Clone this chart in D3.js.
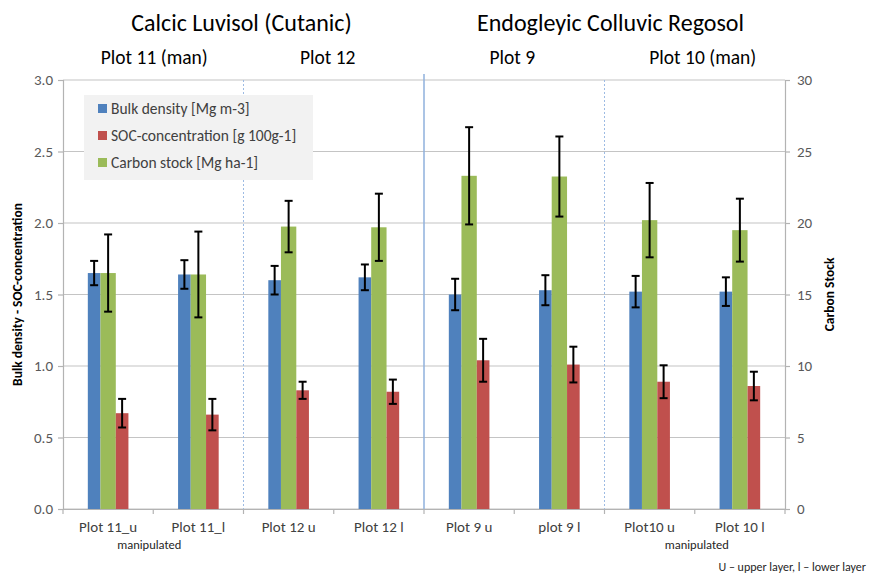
<!DOCTYPE html>
<html>
<head>
<meta charset="utf-8">
<script src="https://cdn.jsdelivr.net/npm/d3@7"></script>
<style>
  html, body { margin: 0; padding: 0; background: #fff; }
  svg { display: block; font-family: Carlito, Calibri, Lato, "Open Sans", sans-serif; }
</style>
</head>
<body>
<svg id="chart" width="869" height="574"></svg>
<script>
// ---------------- data ----------------
const categories = ["Plot 11_u", "Plot 11_l", "Plot 12 u", "Plot 12 l", "Plot 9 u", "plot 9 l", "Plot10 u", "Plot 10 l"];
const bulkDensity    = [1.65, 1.64, 1.60, 1.62, 1.50, 1.53, 1.52, 1.52];
const bulkDensityErr = [0.085, 0.10, 0.10, 0.09, 0.11, 0.105, 0.11, 0.10];
const socConc        = [0.67, 0.66, 0.83, 0.82, 1.04, 1.01, 0.89, 0.86];
const socConcErr     = [0.10, 0.11, 0.06, 0.085, 0.15, 0.125, 0.115, 0.10];
const carbonStock    = [16.5, 16.4, 19.75, 19.7, 23.3, 23.25, 20.2, 19.5];
const carbonStockErr = [2.7, 3.0, 1.8, 2.35, 3.4, 2.8, 2.6, 2.2];
const leftTicks  = [0, 0.5, 1.0, 1.5, 2.0, 2.5, 3.0];
const rightTicks = [0, 5, 10, 15, 20, 25, 30];
const seriesNames = ["Bulk density [Mg m-3]", "SOC-concentration [g 100g-1]", "Carbon stock [Mg ha-1]"];
const soilTitles = ["Calcic Luvisol (Cutanic)", "Endogleyic Colluvic Regosol"];
const plotTitles = ["Plot 11 (man)", "Plot 12", "Plot 9", "Plot 10 (man)"];
const manipulatedNote = "manipulated";
const footNote = "U \u2013 upper layer, l \u2013 lower layer";

// ---------------- layout ----------------
const colors = { bd: "#4f81bd", soc: "#c0504d", cs: "#9bbb59" };
const FONT = "Carlito, Calibri, Lato, sans-serif";
const L = 63, R = 785, T = 80, B = 509;
const svg = d3.select("#chart");

const x = d3.scaleBand().domain(categories).range([L, R]).paddingInner(0).paddingOuter(0);
const y = d3.scaleLinear().domain([0, 3]).range([B, T]);
const y2 = d3.scaleLinear().domain([0, 30]).range([B, T]);
const bw = x.bandwidth();
// within-band placement (fractions of band width)
const slot = { bd: [0.275, 0.415], cs: [0.415, 0.585], soc: [0.585, 0.725] };

// gridlines
svg.append("g").selectAll("line").data(leftTicks).join("line")
  .attr("x1", L).attr("x2", R)
  .attr("y1", d => y(d)).attr("y2", d => y(d))
  .attr("stroke", "#c4c4c4").attr("stroke-width", 1.2);

// separators
const sepSolid = x(categories[4]);
svg.append("line").attr("x1", sepSolid).attr("x2", sepSolid).attr("y1", T - 6).attr("y2", B)
  .attr("stroke", "#8fb0dc").attr("stroke-width", 1.5);
[categories[2], categories[6]].forEach(c => {
  svg.append("line").attr("x1", x(c)).attr("x2", x(c)).attr("y1", T).attr("y2", B)
    .attr("stroke", "#9dbbe3").attr("stroke-width", 1).attr("stroke-dasharray", "2,2");
});

// bars
function drawBars(vals, key, scale) {
  svg.append("g").selectAll("rect").data(vals).join("rect")
    .attr("x", (d, i) => x(categories[i]) + slot[key][0] * bw)
    .attr("width", (slot[key][1] - slot[key][0]) * bw)
    .attr("y", d => scale(d))
    .attr("height", d => B - scale(d))
    .attr("fill", colors[key]);
}
drawBars(bulkDensity, "bd", y);
drawBars(carbonStock, "cs", y2);
drawBars(socConc, "soc", y);

// error bars
function drawErr(vals, errs, key, scale) {
  const g = svg.append("g").attr("stroke", "#000").attr("stroke-width", 2);
  vals.forEach((v, i) => {
    const cx = x(categories[i]) + (slot[key][0] + slot[key][1]) / 2 * bw;
    const y1 = scale(v + errs[i]), y0 = scale(v - errs[i]);
    g.append("line").attr("x1", cx).attr("x2", cx).attr("y1", y1).attr("y2", y0);
    g.append("line").attr("x1", cx - 4).attr("x2", cx + 4).attr("y1", y1).attr("y2", y1);
    g.append("line").attr("x1", cx - 4).attr("x2", cx + 4).attr("y1", y0).attr("y2", y0);
  });
}
drawErr(bulkDensity, bulkDensityErr, "bd", y);
drawErr(carbonStock, carbonStockErr, "cs", y2);
drawErr(socConc, socConcErr, "soc", y);

// axes
const axisColor = "#b3b3b3";
const leftAxis = svg.append("g").attr("transform", `translate(${L},0)`)
  .call(d3.axisLeft(y).tickValues(leftTicks).tickFormat(d3.format(".1f")).tickSize(5).tickPadding(5));
const rightAxis = svg.append("g").attr("transform", `translate(${R},0)`)
  .call(d3.axisRight(y2).tickValues(rightTicks).tickFormat(d3.format("d")).tickSize(5).tickPadding(7));
[leftAxis, rightAxis].forEach(a => {
  a.select(".domain").attr("stroke", axisColor).attr("stroke-width", 1.2);
  a.selectAll(".tick line").attr("stroke", axisColor).attr("stroke-width", 1.2);
  a.selectAll(".tick text").attr("fill", "#595959").style("font-size", "15px")
    .style("font-family", FONT);
});

// x axis
const xAxis = svg.append("g").attr("transform", `translate(0,${B})`)
  .call(d3.axisBottom(x).tickSize(0).tickPadding(12));
xAxis.select(".domain").attr("stroke", axisColor).attr("stroke-width", 1.2);
xAxis.selectAll(".tick text").attr("fill", "#404040").style("font-size", "15px")
  .style("font-family", FONT);
// category boundary ticks
svg.append("g").selectAll("line").data(categories.concat(["end"])).join("line")
  .attr("x1", (d, i) => i < categories.length ? x(d) : R)
  .attr("x2", (d, i) => i < categories.length ? x(d) : R)
  .attr("y1", B).attr("y2", B + 5)
  .attr("stroke", axisColor).attr("stroke-width", 1.2);

// manipulated notes
[[categories[1], -4], [categories[7], 2]].forEach(([c, dx]) => {
  svg.append("text").attr("x", x(c) + dx).attr("y", 549)
    .attr("text-anchor", "middle").attr("fill", "#262626")
    .style("font-size", "12.5px").text(manipulatedNote);
});
svg.append("text").attr("x", 866).attr("y", 571).attr("text-anchor", "end").attr("fill", "#262626")
  .style("font-size", "12px").text(footNote);

// axis titles
svg.append("text").attr("transform", `translate(22,${(T + B) / 2}) rotate(-90)`)
  .attr("text-anchor", "middle").attr("fill", "#000").attr("font-weight", "bold")
  .style("font-size", "13.5px").text("Bulk density - SOC-concentration");
svg.append("text").attr("transform", `translate(834,${(T + B) / 2}) rotate(-90)`)
  .attr("text-anchor", "middle").attr("fill", "#000").attr("font-weight", "bold")
  .style("font-size", "13.5px").text("Carbon Stock");

// titles
const soilX = [(x(categories[0]) + x(categories[4])) / 2 - 2, (x(categories[4]) + R) / 2 + 6];
soilTitles.forEach((t, i) => {
  svg.append("text").attr("x", soilX[i]).attr("y", 31).attr("text-anchor", "middle")
    .attr("fill", "#000").style("font-size", "24px").text(t);
});
const plotDx = [1, -6, -2, 8];
plotTitles.forEach((t, i) => {
  svg.append("text").attr("x", x(categories[2 * i + 1]) + plotDx[i]).attr("y", 64).attr("text-anchor", "middle")
    .attr("fill", "#000").style("font-size", "19.5px").text(t);
});

// legend
const lg = svg.append("g").attr("transform", "translate(84,95)");
lg.append("rect").attr("width", 229).attr("height", 85).attr("fill", "#f2f2f2");
const legendKeys = ["bd", "soc", "cs"];
seriesNames.forEach((n, i) => {
  const ry = 14 + i * 27;
  lg.append("rect").attr("x", 14).attr("y", ry - 5).attr("width", 9).attr("height", 9).attr("fill", colors[legendKeys[i]]);
  lg.append("text").attr("x", 27).attr("y", ry + 5).attr("fill", "#404040")
    .style("font-size", "15.5px").text(n);
});
</script>
</body>
</html>
